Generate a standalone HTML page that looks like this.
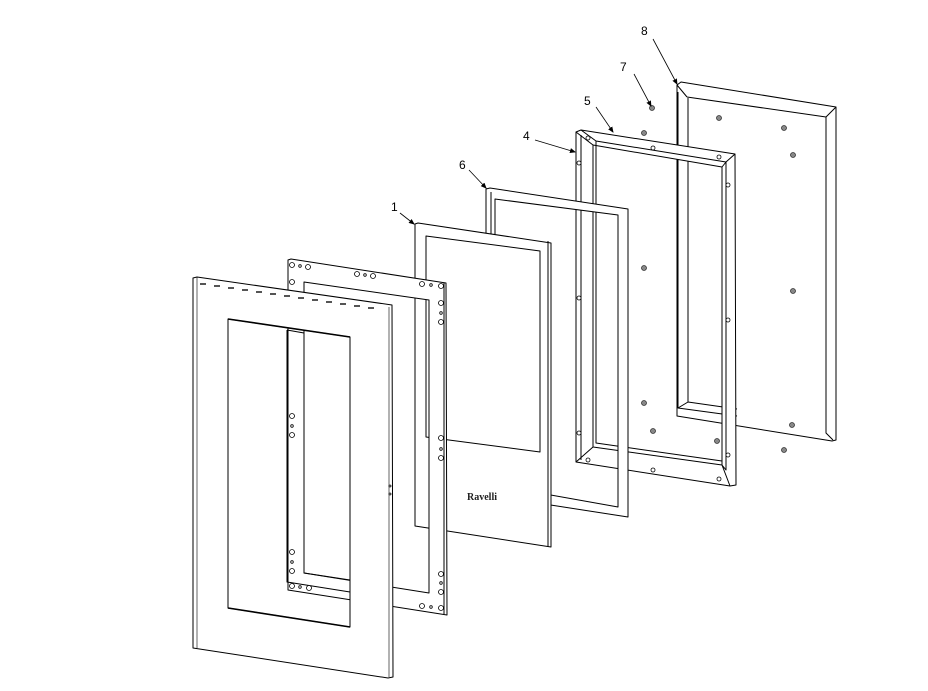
<!DOCTYPE html>
<html><head><meta charset="utf-8"><style>html,body{margin:0;padding:0;background:#fff}svg{display:block}</style></head>
<body>
<svg width="928" height="691" viewBox="0 0 928 691" xmlns="http://www.w3.org/2000/svg" fill="#fff" stroke="#000" stroke-width="1" stroke-linejoin="round">
<defs><marker id="ah" markerWidth="6" markerHeight="6" refX="5" refY="3" orient="auto" markerUnits="userSpaceOnUse"><path d="M0,0.5 L6,3 L0,5.5 Z" fill="#000" stroke="none"/></marker></defs>
<!-- Part 8 -->
<path d="M677,85 L681,82 L836,107 L836,440 L832,441 L677,416 Z"/>
<path d="M687,97 L826,117 L826,433 L833,440 M677,85 L687,97 M836,107 L826,117" fill="none"/>
<path d="M678,92 L678,408 L737,416 M688,98 L688,402 L737,409 M678,408 L688,402" fill="none"/>
<g fill="#888" stroke="#333" stroke-width="0.8">
<circle cx="719" cy="118" r="2.5"/><circle cx="784" cy="128" r="2.5"/><circle cx="793" cy="155" r="2.5"/>
<circle cx="793" cy="291" r="2.5"/><circle cx="792" cy="425" r="2.5"/><circle cx="784" cy="450" r="2.5"/>
<circle cx="652" cy="108" r="2.5"/><circle cx="644" cy="133" r="2.5"/><circle cx="644" cy="268" r="2.5"/>
<circle cx="644" cy="403" r="2.5"/><circle cx="653" cy="431" r="2.5"/><circle cx="717" cy="441" r="2.5"/>
</g>
<!-- Part 5 -->
<path fill-rule="evenodd" d="M576,132 L581,130 L735,154 L736,485 L730,486 L576,462 Z M593,145 L722,167 L722,465 L593,447 Z"/>
<path d="M576,132 L593,145 M581,130 L596,141 L726,162 L735,154 M722,167 L726,162 L726,470 L722,465 M593,447 L576,462 M722,465 L730,486 M596,141 L596,443 L722,461 M581,135 L581,460" fill="none"/>
<g fill="#fff" stroke-width="0.8">
<circle cx="588" cy="138" r="2"/><circle cx="653" cy="148" r="2"/><circle cx="719" cy="157" r="2"/>
<circle cx="579" cy="163" r="2"/><circle cx="579" cy="298" r="2"/><circle cx="579" cy="433" r="2"/>
<circle cx="728" cy="185" r="2"/><circle cx="728" cy="320" r="2"/><circle cx="728" cy="455" r="2"/>
<circle cx="588" cy="460" r="2"/><circle cx="653" cy="470" r="2"/><circle cx="719" cy="479" r="2"/>
</g>
<!-- Part 6 gasket -->
<path fill-rule="evenodd" d="M486,189 L490,188 L628,209 L628,517 L486,495 Z M495,199 L618,215 L618,507 L495,485 Z"/>
<path d="M491,192 L491,490" fill="none"/>
<!-- Part 1 glass -->
<path d="M415,224 L418,223 L551,243 L551,547 L415,526 Z"/>
<path d="M548,241 L548,547" fill="none"/>
<path d="M426,236 L540,251 L540,452 L426,437 Z" fill="none"/>
<text x="467" y="500" font-family="Liberation Serif, serif" font-weight="bold" font-size="10" fill="#222" stroke="none">Ravelli</text>
<!-- Part 2 middle frame -->
<path fill-rule="evenodd" d="M288,260 L291,259 L446,283 L447,615 L288,590 Z M304,282 L429,300 L429,593 L304,573 Z"/>
<path d="M444,283 L444,614" fill="none"/>
<g fill="#fff" stroke-width="0.8">
<circle cx="292" cy="265" r="2.5"/><circle cx="300" cy="266" r="1.3"/><circle cx="308" cy="267" r="2.5"/>
<circle cx="357" cy="274" r="2.5"/><circle cx="365" cy="275" r="1.3"/><circle cx="373" cy="276" r="2.5"/>
<circle cx="292" cy="282" r="2.5"/>
<circle cx="422" cy="284" r="2.5"/><circle cx="431" cy="285" r="1.3"/><circle cx="441" cy="286" r="2.5"/>
<circle cx="441" cy="303" r="2.5"/><circle cx="441" cy="313" r="1.3"/><circle cx="441" cy="322" r="2.5"/>
<circle cx="441" cy="438" r="2.5"/><circle cx="441" cy="449" r="1.3"/><circle cx="441" cy="458" r="2.5"/>
<circle cx="441" cy="574" r="2.5"/><circle cx="441" cy="583" r="1.3"/><circle cx="441" cy="592" r="2.5"/>
<circle cx="422" cy="606" r="2.5"/><circle cx="431" cy="607" r="1.3"/><circle cx="441" cy="608" r="2.5"/>
</g>
<!-- Front panel -->
<path fill-rule="evenodd" d="M193,278 L197,277 L392,305 L393,677 L388,678 L193,648 Z M228,319 L350,337 L350,627 L228,608 Z"/>
<path d="M197,277 L197,648 M389,307 L389,677" fill="none" stroke-width="0.6"/>
<path d="M228,319 L350,337 M228,608 L350,627" fill="none" stroke-width="1.6"/>
<g fill="#555" stroke="none">
<path d="M200,283h6v2h-6z M214,285h6v2h-6z M228,287h6v2h-6z M242,289h6v2h-6z M256,291h6v2h-6z M270,293h6v2h-6z M284,295h6v2h-6z M298,297h6v2h-6z M312,299h6v2h-6z M326,301h6v2h-6z M340,303h6v2h-6z M354,305h6v2h-6z M368,307h6v2h-6z"/>
</g>
<!-- frame seen through window -->
<path d="M287,330 L287,582 L350,592 M304,333 L304,573 L350,580 M287,330 L304,333" fill="none"/>
<g fill="#fff" stroke-width="0.8">
<circle cx="292" cy="416" r="2.5"/><circle cx="292" cy="426" r="1.3"/><circle cx="292" cy="435" r="2.5"/>
<circle cx="292" cy="552" r="2.5"/><circle cx="292" cy="562" r="1.3"/><circle cx="292" cy="571" r="2.5"/>
<circle cx="292" cy="586" r="2.5"/><circle cx="300" cy="587" r="1.3"/><circle cx="309" cy="588" r="2.5"/>
<circle cx="390" cy="486" r="1"/><circle cx="390" cy="494" r="1"/>
</g>
<!-- Labels -->
<g font-family="Liberation Sans, sans-serif" font-size="12" fill="#000" stroke="none">
<text x="641" y="35">8</text><text x="620" y="71">7</text><text x="584" y="105">5</text>
<text x="523" y="140">4</text><text x="459" y="169">6</text><text x="391" y="211">1</text>
</g>
<g fill="none" stroke-width="0.8" marker-end="url(#ah)">
<path d="M653,39 L677,84"/><path d="M634,74 L651,106"/><path d="M596,107 L613,132"/>
<path d="M535,140 L575,152"/><path d="M469,170 L486,188"/><path d="M400,213 L414,224"/>
</g>
</svg>
</body></html>
